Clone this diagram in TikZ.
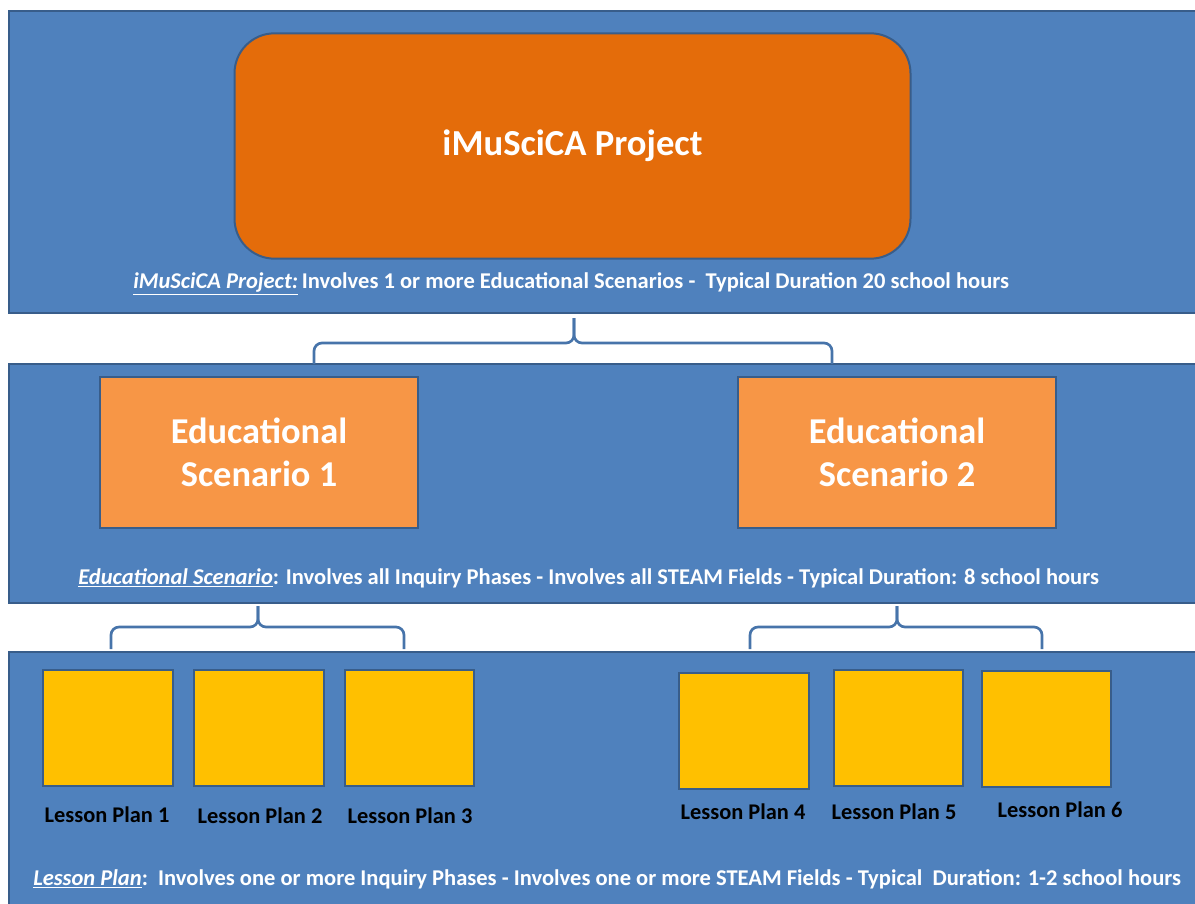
\documentclass[tikz,border=0pt]{standalone}
\usepackage{fontspec}
\setmainfont{Carlito}
\definecolor{bandblue}{HTML}{4F81BD}
\definecolor{edgeblue}{HTML}{385D8A}
\definecolor{projorange}{HTML}{E46C0A}
\definecolor{scenorange}{HTML}{F79646}
\definecolor{lessonyellow}{HTML}{FFC000}
\tikzset{
	band/.style={fill=bandblue, draw=edgeblue, line width=1.5pt},
	project/.style={fill=projorange, draw=edgeblue, line width=1.5pt, rounded corners=30pt,
		minimum width=507pt, minimum height=169pt, text=white,
		font=\fontsize{27.5}{32}\selectfont\bfseries},
	scenario/.style={fill=scenorange, draw=edgeblue, line width=1.5pt,
		minimum width=238pt, minimum height=113pt, text=white, align=center,
		font=\fontsize{27.3}{32}\selectfont\bfseries},
	lesson/.style={fill=lessonyellow, draw=edgeblue, line width=1.5pt,
		minimum width=97pt, minimum height=87pt},
	lplabel/.style={text=black, font=\fontsize{16.8}{19}\selectfont\bfseries},
	caption/.style={anchor=west, text=white, font=\fontsize{16.9}{19}\selectfont\bfseries, inner sep=0pt},
	brace/.style={draw=bandblue!90!black, line width=2pt, rounded corners=6pt}
}
\newcommand{\term}[1]{\underline{\textit{#1}}}
\begin{document}
\begin{tikzpicture}[x=0.75pt,y=-0.75pt]
	\useasboundingbox (0,0) rectangle (1195,903);
	% three levels
	\draw[band] (9,11) rectangle (1200,313);
	\draw[band] (9,364) rectangle (1200,603);
	\draw[band] (9,652) rectangle (1200,910);
	% project level
	\node[project] at (572.5,146) (proj) {\raisebox{-2pt}{iMuSciCA Project}};
	\node[caption] at (133,284) (capproj) {\term{iMuSciCA Project:}\,Involves 1 or more Educational Scenarios -\ \ Typical\ Duration 20 school hours};
	% scenario level
	\node[scenario] at (259,452.5) (es1) {Educational\\Scenario 1};
	\node[scenario] at (897,452.5) (es2) {Educational\\Scenario 2};
	\node[caption] at (78,578) (capes) {\term{Educational Scenario}: Involves all\ Inquiry Phases - Involves all\ STEAM Fields - Typical Duration: 8 school hours};
	% lesson plans
	\node[lesson] at (108,727.5) (lp1) {};
	\node[lesson] at (259,727.5) (lp2) {};
	\node[lesson] at (409.5,727.5) (lp3) {};
	\node[lesson] at (744,731) (lp4) {};
	\node[lesson] at (898.5,728) (lp5) {};
	\node[lesson] at (1046.5,729) (lp6) {};
	\node[lplabel] at (107,815) (lp1txt) {Lesson Plan 1};
	\node[lplabel] at (260,816) (lp2txt) {Lesson Plan 2};
	\node[lplabel] at (410,816) (lp3txt) {Lesson Plan 3};
	\node[lplabel] at (743,812) (lp4txt) {Lesson Plan 4};
	\node[lplabel] at (894,812) (lp5txt) {Lesson Plan 5};
	\node[lplabel] at (1060,810) (lp6txt) {Lesson Plan 6};
	\node[caption] at (33,879) (caplp) {\term{Lesson Plan}:\ \ Involves one or more Inquiry Phases - Involves one or more STEAM Fields - Typical\ \ Duration: 1-2 school hours};
	% braces
	\coordinate (t1) at (574,318);
	\coordinate (l1) at (314,364);
	\coordinate (r1) at (832,364);
	\coordinate (t2) at (258,606);
	\coordinate (l2) at (111,649);
	\coordinate (r2) at (404,649);
	\coordinate (t3) at (897,606);
	\coordinate (l3) at (750,649);
	\coordinate (r3) at (1042,649);
	\draw[brace] (l1) -- (l1 |- 0,343) -- (t1 |- 0,343) -- (t1);
	\draw[brace] (r1) -- (r1 |- 0,343) -- (t1 |- 0,343) -- (t1);
	\draw[brace] (l2) -- (l2 |- 0,627) -- (t2 |- 0,627) -- (t2);
	\draw[brace] (r2) -- (r2 |- 0,627) -- (t2 |- 0,627) -- (t2);
	\draw[brace] (l3) -- (l3 |- 0,627) -- (t3 |- 0,627) -- (t3);
	\draw[brace] (r3) -- (r3 |- 0,627) -- (t3 |- 0,627) -- (t3);
\end{tikzpicture}
\end{document}
